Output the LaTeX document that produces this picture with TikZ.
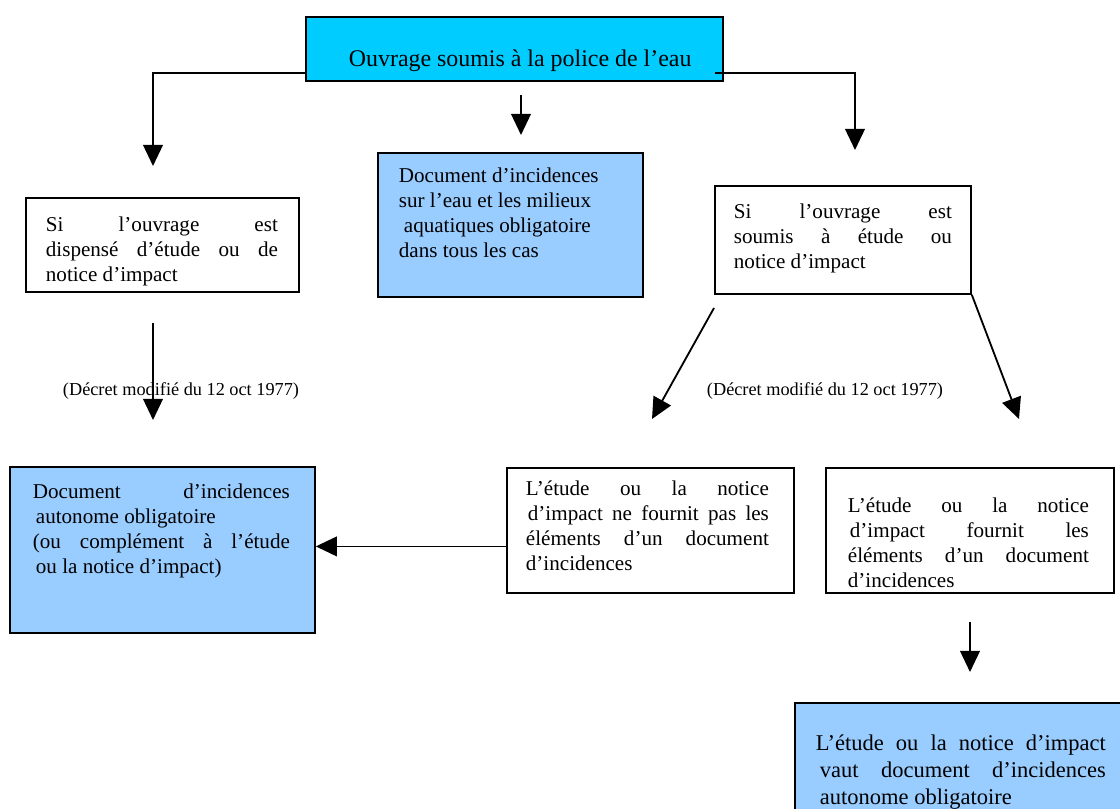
\documentclass[tikz,border=0pt]{standalone}
\usepackage{fontspec}
\setmainfont{Liberation Serif}
\usetikzlibrary{arrows.meta,positioning,calc}
\newlength{\px}
\setlength{\px}{0.025cm}
\definecolor{topcyan}{RGB}{0,204,255}
\definecolor{docblue}{RGB}{153,204,255}
% box text: width, height, left pad, right pad, top pad, text
\newcommand{\boxtext}[6]{\parbox[t][#2\px][t]{#1\px}{\vspace*{#5\px}\leftskip=#3\px\rightskip=#4\px\relax
    \tolerance=10000\hyphenpenalty=10000\noindent\strut #6}}
\tikzstyle{box} = [draw, line width=1.3pt, rectangle, inner sep=0pt, anchor=north west,
    fill=white, font=\fontsize{15}{17.7}\selectfont]
\tikzstyle{docbox} = [box, fill=docblue]
\tikzstyle{topbox} = [box, fill=topcyan, font=\fontsize{17}{20}\selectfont]
\tikzstyle{note} = [font=\fontsize{13}{15}\selectfont]
\tikzstyle{arr} = [draw, line width=1.3pt, -{Triangle[length=15pt,width=14pt]}]

\begin{document}
\begin{tikzpicture}[x=0.025cm, y=-0.025cm]
    \useasboundingbox (0,0) rectangle (1120,809);

    \node [topbox] (ouvrage) at (305,16)
        {\boxtext{417}{64}{43}{0}{30}{Ouvrage soumis à la police de l’eau}};

    \node [box] (dispense) at (25,197)
        {\boxtext{273}{94}{20}{21}{16.5}{Si l’ouvrage est\linebreak dispensé d’étude ou de\linebreak notice d’impact}};
    \node [docbox] (incidences) at (377,152)
        {\boxtext{265}{144}{21}{10}{12.5}{Document d’incidences\\ sur l’eau et les milieux\\ \hspace*{5\px}aquatiques obligatoire\\ dans tous les cas}};
    \node [box] (soumis) at (714,185)
        {\boxtext{256}{108}{19}{19}{15}{Si l’ouvrage est\linebreak soumis à étude ou\linebreak notice d’impact}};

    \node [docbox] (autonome) at (9,466)
        {\boxtext{305}{166}{23}{25}{14.5}{Document d’incidences\linebreak \hspace*{3\px}autonome obligatoire\\ (ou complément à l’étude\linebreak \hspace*{3\px}ou la notice d’impact)}};
    \node [box] (nefournit) at (506,467)
        {\boxtext{287}{125}{19}{25}{10.5}{L’étude ou la notice\linebreak \hspace*{2\px}d’impact ne fournit pas les\linebreak éléments d’un document\linebreak d’incidences}};
    \node [box] (fournit) at (825,467)
        {\boxtext{288}{125}{22}{25}{27.5}{L’étude ou la notice\linebreak \hspace*{2\px}d’impact fournit les\linebreak éléments d’un document\linebreak d’incidences}};
    \node [docbox, font=\fontsize{16}{19}\selectfont] (vaut) at (794,702)
        {\boxtext{330}{120}{21}{19}{29}{L’étude ou la notice d’impact\linebreak \hspace*{4\px}vaut document d’incidences\linebreak \hspace*{4\px}autonome obligatoire}};

    \node [note] (decret_l) at (181,391) {(Décret modifié du 12 oct 1977)};
    \node [note] (decret_r) at (825,391) {(Décret modifié du 12 oct 1977)};

    \coordinate (left_tip) at (153,166);
    \coordinate (right_tip) at (855,150);
    \coordinate (mid_top) at (521,95);
    \coordinate (mid_tip) at (521,135);
    \coordinate (disp_top) at (153,323);
    \coordinate (disp_tip) at (153,420);
    \coordinate (soum_bl) at (714,308);
    \coordinate (nefour_tip) at (652,419);
    \coordinate (four_tip) at (1019,419);
    \coordinate (four_bot) at (970,622);
    \coordinate (vaut_tip) at (970,672);

    \draw [arr] ([yshift=9\px]ouvrage.south west) -| (left_tip);
    \draw [arr] ([xshift=-9\px,yshift=9\px]ouvrage.south east) -| (right_tip);
    \draw [arr] (mid_top) -- (mid_tip);
    \draw [arr] (disp_top) -- (disp_tip);
    \draw [arr] (soum_bl) -- (nefour_tip);
    \draw [arr] (soumis.south east) -- (four_tip);
    \coordinate (nf_w) at ([yshift=-16\px]nefournit.west);
    \draw [arr] (nf_w) -- (nf_w -| autonome.east);
    \draw [arr] (four_bot) -- (vaut_tip);
\end{tikzpicture}
\end{document}
